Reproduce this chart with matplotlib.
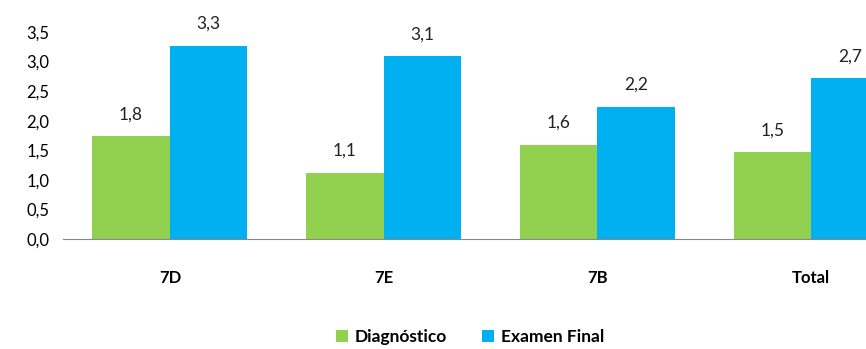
import numpy as np
import matplotlib.pyplot as plt

plt.rcParams['font.family'] = ['Lato', 'DejaVu Sans']

groups = ["7D", "7E", "7B", "Total"]
diagnostico = [1.74, 1.12, 1.59, 1.47]
examen_final = [3.27, 3.09, 2.24, 2.72]
diag_labels = ["1,8", "1,1", "1,6", "1,5"]
final_labels = ["3,3", "3,1", "2,2", "2,7"]
yticks = [0.0, 0.5, 1.0, 1.5, 2.0, 2.5, 3.0, 3.5]

green = "#92D050"
blue = "#00B0F0"

fig = plt.figure(figsize=(8.66, 3.49), dpi=100)
# axes runs past the right edge, as in the original (last bar is cut)
ax = fig.add_axes([63 / 866, 1 - 239 / 349, (918 - 63) / 866, (239 - 32) / 349])

x = np.arange(len(groups))
w = 0.363
b1 = ax.bar(x - w / 2, diagnostico, w, color=green, label="Diagnóstico")
b2 = ax.bar(x + w / 2, examen_final, w, color=blue, label="Examen Final")

for rect, lab in zip(b1, diag_labels):
    ax.annotate(lab, (rect.get_x() + rect.get_width() / 2, rect.get_height()),
                xytext=(0, 10), textcoords="offset points", ha="center", va="bottom",
                fontsize=12.5, color="#222222")
for rect, lab in zip(b2, final_labels):
    ax.annotate(lab, (rect.get_x() + rect.get_width() / 2, rect.get_height()),
                xytext=(0, 10), textcoords="offset points", ha="center", va="bottom",
                fontsize=12.5, color="#222222")

ax.set_xlim(-0.5, len(groups) - 0.5)
ax.set_ylim(0, 3.5)
ax.set_yticks(yticks)
ax.set_yticklabels([f"{v:.1f}".replace(".", ",") for v in yticks], fontsize=12)
ax.set_xticks(x)
ax.set_xticklabels(groups, fontsize=12, fontweight="bold")
ax.tick_params(length=0)
ax.tick_params(axis="x", pad=22)
ax.tick_params(axis="y", pad=10)
for s in ["top", "right", "left"]:
    ax.spines[s].set_visible(False)
ax.spines["bottom"].set_color("#888888")
ax.set_clip_on(False)

fig.legend(loc="center", bbox_to_anchor=(470 / 866, 1 - 337 / 349), ncol=2, frameon=False,
           handlelength=0.7, handleheight=0.7, handletextpad=0.4, columnspacing=2.0,
           prop={"size": 12.5, "weight": "bold"})

fig.savefig("out.png", dpi=100)
